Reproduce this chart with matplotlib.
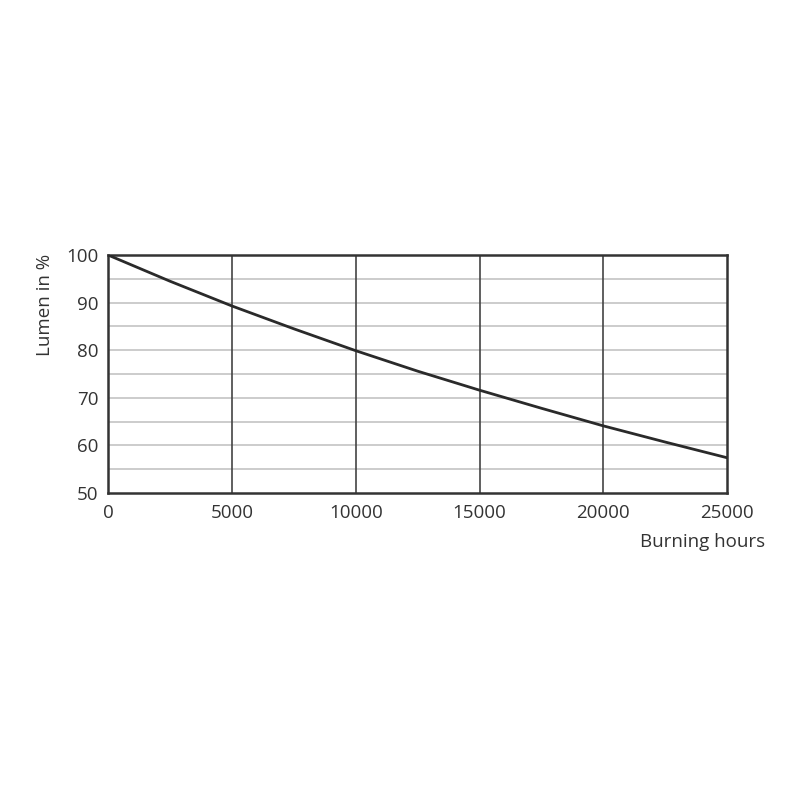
import matplotlib
matplotlib.use("Agg")
import matplotlib.pyplot as plt

hours = [0, 2500, 5000, 7500, 10000, 12500, 15000, 17500, 20000, 22500, 25000]
lumen = [100, 94.5, 89.3, 84.5, 79.9, 75.6, 71.6, 67.8, 64.1, 60.7, 57.4]
x_ticks = [0, 5000, 10000, 15000, 20000, 25000]
y_ticks = [50, 60, 70, 80, 90, 100]
y_grid = [55, 60, 65, 70, 75, 80, 85, 90, 95]

plt.rcParams['font.family'] = ['Open Sans', 'DejaVu Sans']

fig = plt.figure(figsize=(8, 8), dpi=100)
ax = fig.add_axes([0.135, 0.38375, 0.774, 0.2975])

for y in y_grid:
    ax.axhline(y, color='#c4c4c4', lw=1.2, zorder=1)
for x in x_ticks[1:-1]:
    ax.axvline(x, color='#444444', lw=1.2, zorder=2)

ax.plot(hours, lumen, color='#2a2a2a', lw=2.0, zorder=3)

ax.set_xlim(0, 25000)
ax.set_ylim(50, 100)
ax.set_xticks(x_ticks)
ax.set_yticks(y_ticks)
ax.set_xticklabels([str(v) for v in x_ticks])
ax.set_yticklabels([str(v) for v in y_ticks])
ax.tick_params(length=0, labelsize=13.5, colors='#333333')
ax.tick_params(axis='x', pad=8)
ax.tick_params(axis='y', pad=7)
for s in ax.spines.values():
    s.set_color('#333333')
    s.set_linewidth(1.8)

fig.text(765 / 800, 1 - 542 / 800, 'Burning hours', ha='right', va='center',
         fontsize=13.5, color='#333333')
fig.text(45 / 800, 1 - 305 / 800, 'Lumen in %', ha='center', va='center',
         rotation=90, fontsize=13.5, color='#333333')

fig.savefig('out.png', dpi=100, facecolor='white')
